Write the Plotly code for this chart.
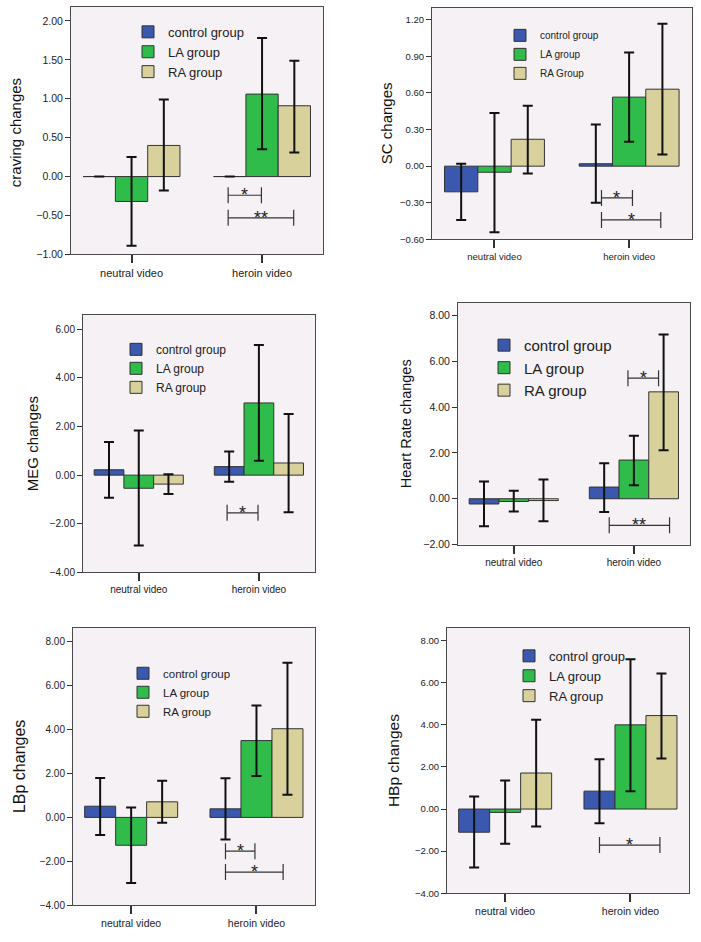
import plotly.graph_objects as go

# ---------------- data ----------------
categories = ["neutral video", "heroin video"]
group_names = ["control group", "LA group", "RA group"]
group_names_sc = ["control group", "LA group", "RA Group"]

# craving changes
craving_control = [0.0, 0.0]
craving_control_upper = [None, None]
craving_control_lower = [None, None]
craving_la = [-0.32, 1.06]
craving_la_upper = [0.25, 1.78]
craving_la_lower = [-0.89, 0.35]
craving_ra = [0.40, 0.91]
craving_ra_upper = [0.99, 1.49]
craving_ra_lower = [-0.18, 0.31]
craving_ticks = [-1.0, -0.5, 0.0, 0.5, 1.0, 1.5, 2.0]

# SC changes
sc_control = [-0.21, 0.02]
sc_control_upper = [0.02, 0.34]
sc_control_lower = [-0.44, -0.30]
sc_la = [-0.05, 0.565]
sc_la_upper = [0.435, 0.93]
sc_la_lower = [-0.54, 0.20]
sc_ra = [0.22, 0.63]
sc_ra_upper = [0.495, 1.165]
sc_ra_lower = [-0.06, 0.095]
sc_ticks = [-0.6, -0.3, 0.0, 0.3, 0.6, 0.9, 1.2]

# MEG changes
meg_control = [0.22, 0.35]
meg_control_upper = [1.36, 0.97]
meg_control_lower = [-0.93, -0.27]
meg_la = [-0.54, 2.97]
meg_la_upper = [1.84, 5.35]
meg_la_lower = [-2.90, 0.59]
meg_ra = [-0.37, 0.50]
meg_ra_upper = [0.04, 2.52]
meg_ra_lower = [-0.78, -1.53]
meg_ticks = [-4, -2, 0, 2, 4, 6]

# Heart Rate changes
hr_control = [-0.23, 0.51]
hr_control_upper = [0.75, 1.55]
hr_control_lower = [-1.20, -0.58]
hr_la = [-0.12, 1.69]
hr_la_upper = [0.35, 2.75]
hr_la_lower = [-0.56, 0.59]
hr_ra = [-0.08, 4.67]
hr_ra_upper = [0.84, 7.18]
hr_ra_lower = [-0.98, 2.12]
hr_ticks = [-2, 0, 2, 4, 6, 8]

# LBp changes
lbp_control = [0.51, 0.39]
lbp_control_upper = [1.79, 1.78]
lbp_control_lower = [-0.80, -1.01]
lbp_la = [-1.27, 3.50]
lbp_la_upper = [0.45, 5.10]
lbp_la_lower = [-2.99, 1.89]
lbp_ra = [0.71, 4.04]
lbp_ra_upper = [1.67, 7.04]
lbp_ra_lower = [-0.24, 1.03]
lbp_ticks = [-4, -2, 0, 2, 4, 6, 8]

# HBp changes
hbp_control = [-1.10, 0.85]
hbp_control_upper = [0.60, 2.36]
hbp_control_lower = [-2.78, -0.68]
hbp_la = [-0.16, 4.00]
hbp_la_upper = [1.35, 7.11]
hbp_la_lower = [-1.65, 0.85]
hbp_ra = [1.71, 4.44]
hbp_ra_upper = [4.24, 6.44]
hbp_ra_lower = [-0.83, 2.40]
hbp_ticks = [-4, -2, 0, 2, 4, 6, 8]

# significance brackets: (category index, from bar slot, to bar slot, y value, label)
craving_sig = [(1, -1.05, -0.02, -0.24, "*"), (1, -1.05, 0.98, -0.53, "**")]
sc_sig = [(1, -0.83, 0.10, -0.26, "*"), (1, -0.83, 0.95, -0.44, "*")]
meg_sig = [(1, -1.07, -0.03, -1.55, "*")]
hr_sig = [(1, -0.20, 0.83, 5.27, "*"), (1, -0.83, 1.20, -1.16, "**")]
lbp_sig = [(1, -1.0, -0.05, -1.54, "*"), (1, -1.0, 0.86, -2.49, "*")]
hbp_sig = [(1, -1.0, 0.95, -1.71, "*")]

# ---------------- layout / style ----------------
W, H = 701, 942
FONT = "Liberation Sans, Arial, sans-serif"
COLORS = ["#3A58AE", "#2FBC4A", "#D8D19B"]
BG = "#F5F1F5"
BARGAP = 0.258
BW = (1 - BARGAP) / 3
XRANGE = [-0.464, 1.467]

panels = [
    dict(title="craving changes", names=group_names,
         means=[craving_control, craving_la, craving_ra],
         upper=[craving_control_upper, craving_la_upper, craving_ra_upper],
         lower=[craving_control_lower, craving_la_lower, craving_ra_lower],
         ticks=craving_ticks, yr=[-1.0, 2.18], sig=craving_sig,
         box=(71, 7, 323, 256), title_pos=(15, 134), title_size=15,
         tick_size=10.5, xtick_size=11, leg_font=13, leg_pos=(148, 17)),
    dict(title="SC changes", names=group_names_sc,
         means=[sc_control, sc_la, sc_ra],
         upper=[sc_control_upper, sc_la_upper, sc_ra_upper],
         lower=[sc_control_lower, sc_la_lower, sc_ra_lower],
         ticks=sc_ticks, yr=[-0.6, 1.295], sig=sc_sig,
         box=(432, 8, 692, 241), title_pos=(386, 124), title_size=15,
         tick_size=9.5, xtick_size=9.5, leg_font=10, leg_pos=(520, 21)),
    dict(title="MEG changes", names=group_names,
         means=[meg_control, meg_la, meg_ra],
         upper=[meg_control_upper, meg_la_upper, meg_ra_upper],
         lower=[meg_control_lower, meg_la_lower, meg_ra_lower],
         ticks=meg_ticks, yr=[-4.0, 6.59], sig=meg_sig,
         box=(83, 317, 315, 576), title_pos=(32, 447), title_size=15,
         tick_size=10, xtick_size=10, leg_font=12, leg_pos=(136, 337)),
    dict(title="Heart Rate changes", names=group_names,
         means=[hr_control, hr_la, hr_ra],
         upper=[hr_control_upper, hr_la_upper, hr_ra_upper],
         lower=[hr_control_lower, hr_la_lower, hr_ra_lower],
         ticks=hr_ticks, yr=[-2.0, 8.55], sig=hr_sig,
         box=(458, 305, 690, 548), title_pos=(406, 427), title_size=14.5,
         tick_size=10.5, xtick_size=10, leg_font=15, leg_pos=(504, 331)),
    dict(title="LBp changes", names=group_names,
         means=[lbp_control, lbp_la, lbp_ra],
         upper=[lbp_control_upper, lbp_la_upper, lbp_ra_upper],
         lower=[lbp_control_lower, lbp_la_lower, lbp_ra_lower],
         ticks=lbp_ticks, yr=[-4.0, 8.63], sig=lbp_sig,
         box=(73, 632, 315, 911), title_pos=(19, 772), title_size=16,
         tick_size=10, xtick_size=10.5, leg_font=11.5, leg_pos=(143, 663)),
    dict(title="HBp changes", names=group_names,
         means=[hbp_control, hbp_la, hbp_ra],
         upper=[hbp_control_upper, hbp_la_upper, hbp_ra_upper],
         lower=[hbp_control_lower, hbp_la_lower, hbp_ra_lower],
         ticks=hbp_ticks, yr=[-4.0, 8.6], sig=hbp_sig,
         box=(447, 632, 689, 899), title_pos=(393, 766), title_size=15.5,
         tick_size=9.5, xtick_size=10.5, leg_font=13, leg_pos=(529, 645)),
]


def diff(a, b):
    return [None if (u is None or v is None) else round(u - v, 4) for u, v in zip(a, b)]


fig = go.Figure()
shapes = []
annotations = []
layout_extra = {}

for i, p in enumerate(panels, start=1):
    sfx = "" if i == 1 else str(i)
    xa, ya = "x" + sfx, "y" + sfx
    leg = "legend" + sfx
    for g in range(3):
        m = p["means"][g]
        fig.add_trace(go.Bar(
            x=categories, y=m, name=p["names"][g],
            marker=dict(color=COLORS[g], line=dict(color="#333333", width=1)),
            error_y=dict(type="data", symmetric=False,
                         array=diff(p["upper"][g], m),
                         arrayminus=diff(m, p["lower"][g]),
                         color="#111111", thickness=2, width=5),
            xaxis=xa, yaxis=ya, legend=leg, showlegend=True,
        ))
    x0, y0, x1, y1 = p["box"]
    layout_extra["xaxis" + sfx] = dict(
        domain=[x0 / W, x1 / W], anchor=ya, type="category", range=XRANGE,
        showline=True, mirror=True, linecolor="#4a4a4a", linewidth=1,
        ticks="outside", ticklen=8, tickwidth=1.5, tickcolor="#333333",
        tickfont=dict(family=FONT, size=p["xtick_size"], color="#222222"),
        showgrid=False, zeroline=False, fixedrange=True,
    )
    layout_extra["yaxis" + sfx] = dict(
        domain=[1 - y1 / H, 1 - y0 / H], anchor=xa, range=p["yr"],
        tickmode="array", tickvals=p["ticks"], tickformat=".2f",
        showline=True, mirror=True, linecolor="#4a4a4a", linewidth=1,
        ticks="outside", ticklen=5, tickwidth=1, tickcolor="#333333",
        tickfont=dict(family=FONT, size=p["tick_size"], color="#222222"),
        showgrid=False, zeroline=False, fixedrange=True,
    )
    lx, ltop = p["leg_pos"]
    layout_extra[leg] = dict(
        x=(lx - 20) / W, y=1 - ltop / H, xanchor="left", yanchor="top",
        bgcolor="rgba(0,0,0,0)", borderwidth=0,
        font=dict(family=FONT, size=p["leg_font"], color="#222222"),
        tracegroupgap=0, itemclick=False, itemdoubleclick=False,
    )
    tx, ty = p["title_pos"]
    annotations.append(dict(
        text=p["title"], x=tx / W, y=1 - ty / H, xref="paper", yref="paper",
        xanchor="center", yanchor="middle", textangle=-90, showarrow=False,
        font=dict(family=FONT, size=p["title_size"], color="#111111"),
    ))
    for (c, s0, s1, yb, lab) in p["sig"]:
        xs0 = c + s0 * BW
        xs1 = c + s1 * BW
        shapes.append(dict(type="line", xref=xa, yref=ya, x0=xs0, x1=xs1,
                           y0=yb, y1=yb, line=dict(color="#333333", width=1.2)))
        for xv in (xs0, xs1):
            shapes.append(dict(type="line", xref=xa, yref=ya, x0=xv, x1=xv,
                               ysizemode="pixel", yanchor=yb, y0=-8, y1=8,
                               line=dict(color="#333333", width=1.2)))
        annotations.append(dict(
            text=lab, x=(xs0 + xs1) / 2, y=yb, xref=xa, yref=ya,
            xanchor="center", yanchor="middle", showarrow=False,
            font=dict(family=FONT, size=18, color="#222222"),
        ))

fig.update_layout(
    width=W, height=H, margin=dict(l=0, r=0, t=0, b=0),
    paper_bgcolor="white", plot_bgcolor=BG,
    barmode="group", bargap=BARGAP, bargroupgap=0,
    font=dict(family=FONT, color="#222222"),
    shapes=shapes, annotations=annotations,
    **layout_extra,
)

fig.write_html("out.html", config={"displayModeBar": False},
               post_script="document.body.style.margin='0';")
